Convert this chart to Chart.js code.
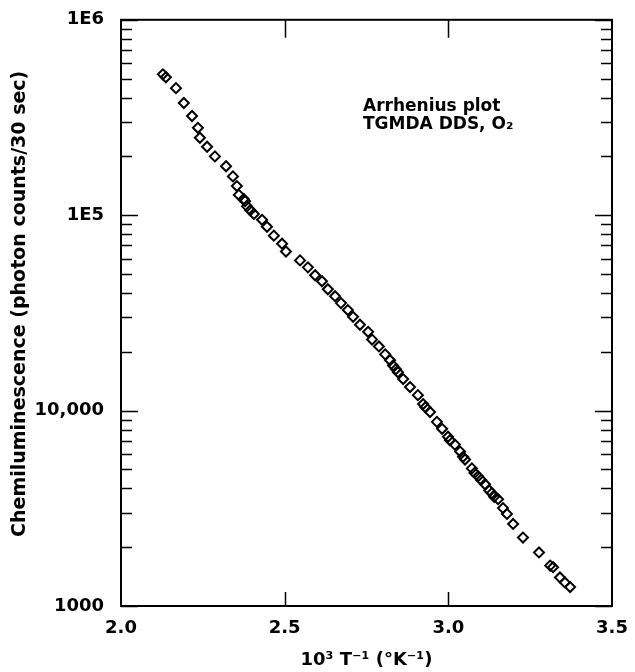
<!DOCTYPE html>
<html>
<head>
<meta charset="utf-8">
<script src="https://cdn.jsdelivr.net/npm/chart.js@4/dist/chart.umd.min.js"></script>
<style>
  html, body { margin: 0; padding: 0; background: #fff; }
</style>
</head>
<body>
<canvas id="myChart" width="635" height="672"></canvas>
<script>
// 10^3/T values and chemiluminescence counts
const invT = [
    2.128, 2.137, 2.168, 2.192, 2.217, 2.235, 2.241, 2.263, 2.287, 2.321,
    2.342, 2.354, 2.360, 2.375, 2.379, 2.385, 2.395, 2.406, 2.431, 2.446,
    2.467, 2.492, 2.504, 2.547, 2.571, 2.593, 2.614, 2.632, 2.654, 2.672,
    2.693, 2.709, 2.730, 2.755, 2.767, 2.788, 2.807, 2.822, 2.831, 2.840,
    2.846, 2.862, 2.883, 2.907, 2.923, 2.930, 2.944, 2.965, 2.981, 2.999,
    3.005, 3.020, 3.036, 3.045, 3.051, 3.072, 3.080, 3.091, 3.100, 3.112,
    3.125, 3.133, 3.140, 3.152, 3.167, 3.179, 3.198, 3.228, 3.277, 3.311,
    3.320, 3.341, 3.356, 3.372
];
const counts = [
    526000, 508000, 447000, 375000, 322000, 280000, 249000, 224000, 200000, 178000,
    158000, 141000, 127000, 121000, 118000, 111000, 106000, 101500, 94700, 87300,
    78600, 71500, 65200, 58700, 54100, 49300, 45900, 41800, 38500, 35500,
    32700, 30200, 27500, 25300, 23100, 21300, 19400, 18100, 17000, 16300,
    15700, 14500, 13200, 12000, 10800, 10400, 9840, 8760, 8070, 7350,
    7050, 6700, 6170, 5800, 5620, 5060, 4800, 4610, 4420, 4200,
    3900, 3780, 3620, 3520, 3170, 2960, 2630, 2240, 1880, 1610,
    1580, 1400, 1320, 1250
];

const xTicks = [2.0, 2.5, 3.0, 3.5];
const yTickValues = [1000, 10000, 100000, 1000000];
const yTickLabels = ['1000', '10,000', '1E5', '1E6'];
const yTitle = 'Chemiluminescence (photon counts/30 sec)';
const noteLines = ['Arrhenius plot', 'TGMDA DDS, O\u2082'];

const boldFont = 'DejaVu Sans';

// frame around the plot, inward ticks on all four sides, y title and the note
const frameTicks = {
    id: 'frameTicks',
    afterDatasetsDraw(chart) {
        const ctx = chart.ctx;
        const area = chart.chartArea;
        const xs = chart.scales.x;
        const ys = chart.scales.y;
        ctx.save();
        ctx.strokeStyle = '#000';
        ctx.lineWidth = 2;
        ctx.strokeRect(area.left, area.top, area.right - area.left, area.bottom - area.top);

        ctx.lineWidth = 1.5;
        ctx.beginPath();
        ys.ticks.forEach(t => {
            const py = Math.round(ys.getPixelForValue(t.value)) + 0.5;
            const len = yTickValues.includes(t.value) ? 17 : 11;
            ctx.moveTo(area.left, py);
            ctx.lineTo(area.left + len, py);
            ctx.moveTo(area.right, py);
            ctx.lineTo(area.right - len, py);
        });
        xTicks.slice(1, -1).forEach(v => {
            const px = Math.round(xs.getPixelForValue(v)) + 0.5;
            ctx.moveTo(px, area.bottom);
            ctx.lineTo(px, area.bottom - 14);
            ctx.moveTo(px, area.top);
            ctx.lineTo(px, area.top + 18);
        });
        ctx.stroke();

        ctx.fillStyle = '#000';
        ctx.font = 'bold 17px "' + boldFont + '"';
        ctx.textAlign = 'left';
        ctx.textBaseline = 'alphabetic';
        noteLines.forEach((line, i) => {
            ctx.fillText(line, area.left + 242, area.top + 91 + i * 18);
        });

        ctx.translate(20, area.top + 284);
        ctx.rotate(-Math.PI / 2);
        ctx.font = 'bold 19px "' + boldFont + '"';
        ctx.textAlign = 'center';
        ctx.textBaseline = 'middle';
        ctx.fillText(yTitle, 0, 0);
        ctx.restore();
    }
};

const data = {
    datasets: [{
        label: 'TGMDA DDS, O2',
        data: invT.map((x, i) => ({ x: x, y: counts[i] })),
        showLine: false,
        pointStyle: 'rectRot',
        pointRadius: 5,
        pointHoverRadius: 5,
        borderColor: '#000',
        borderWidth: 2,
        backgroundColor: 'rgba(0,0,0,0)'
    }]
};

const config = {
    type: 'scatter',
    data: data,
    plugins: [frameTicks],
    options: {
        responsive: false,
        animation: false,
        devicePixelRatio: 1,
        layout: { padding: { top: 14, right: 23, left: 0, bottom: 0 } },
        plugins: {
            legend: { display: false },
            tooltip: { enabled: false }
        },
        events: [],
        scales: {
            x: {
                type: 'linear',
                min: 2,
                max: 3.5,
                afterBuildTicks: scale => { scale.ticks = xTicks.map(v => ({ value: v })); },
                afterFit: scale => { scale.height = 66; },
                grid: { display: false },
                border: { display: false },
                ticks: {
                    color: '#000',
                    padding: 4,
                    maxRotation: 0,
                    autoSkip: false,
                    font: { family: boldFont, size: 18, weight: 'bold' },
                    callback: v => Number(v).toFixed(1)
                },
                title: {
                    display: true,
                    text: '10\u00B3 T\u207B\u00B9 (\u00B0K\u207B\u00B9)',
                    color: '#000',
                    font: { family: boldFont, size: 18, weight: 'bold' },
                    padding: { top: 0, bottom: 1 }
                }
            },
            y: {
                type: 'logarithmic',
                min: 1000,
                max: 1000000,
                afterBuildTicks: scale => {
                    const ticks = [];
                    yTickValues.forEach((d, i) => {
                        if (i === yTickValues.length - 1) {
                            ticks.push({ value: d });
                            return;
                        }
                        for (let m = 1; m <= 9; m++) ticks.push({ value: d * m });
                    });
                    scale.ticks = ticks;
                },
                afterFit: scale => { scale.width = 121; },
                grid: { display: false },
                border: { display: false },
                ticks: {
                    color: '#000',
                    padding: 9,
                    autoSkip: false,
                    font: { family: boldFont, size: 18, weight: 'bold' },
                    callback: v => {
                        const i = yTickValues.indexOf(v);
                        return i >= 0 ? yTickLabels[i] : '';
                    }
                },
                title: { display: false }
            }
        }
    }
};

function makeChart() {
    const myChart = new Chart(
        document.getElementById('myChart'),
        config
    );
}
makeChart();
</script>
</body>
</html>
